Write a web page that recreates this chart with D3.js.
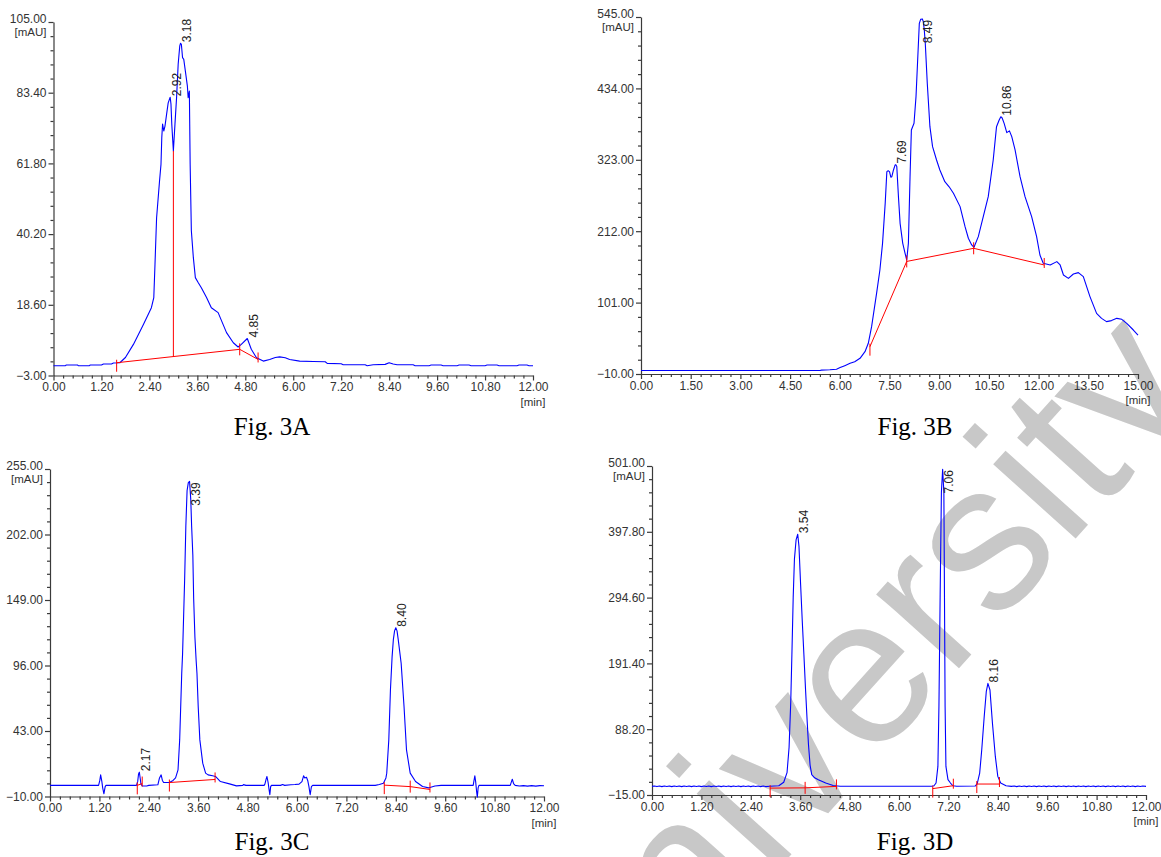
<!DOCTYPE html>
<html>
<head>
<meta charset="utf-8">
<script src="https://cdn.jsdelivr.net/npm/d3@7/dist/d3.min.js"></script>
<style>
  html, body { margin: 0; padding: 0; background: #fff; }
  svg { display: block; }
</style>
</head>
<body>
<svg id="fig" width="1161" height="857"></svg>
<script>
// ---------- Fig. 3A : chromatogram (time [min], absorbance [mAU]) ----------
const ticksXA = [0, 1.2, 2.4, 3.6, 4.8, 6.0, 7.2, 8.4, 9.6, 10.8, 12.0];
const ticksYA = [-3.00, 18.60, 40.20, 61.80, 83.40, 105.00];
const traceA = [
  [0.00,0.0],[0.30,0.0],[0.32,0.2],[0.60,0.2],[0.62,0.0],[0.90,0.0],[0.92,0.2],[1.20,0.2],
  [1.25,0.5],[1.45,0.5],[1.50,0.8],[1.66,0.9],[1.80,2.5],[2.00,6.5],[2.25,12.6],[2.45,17.7],
  [2.51,20.8],[2.54,31.0],[2.58,45.2],[2.65,55.9],[2.69,61.5],[2.71,69.7],[2.73,73.8],[2.76,71.7],
  [2.79,73.2],[2.83,76.8],[2.87,80.3],[2.92,82.0],[2.94,79.9],[2.96,73.8],[3.00,65.6],[3.04,73.8],
  [3.08,81.9],[3.12,92.1],[3.16,97.7],[3.18,98.5],[3.20,98.2],[3.23,94.1],[3.26,93.6],[3.30,90.0],
  [3.35,85.5],[3.37,81.9],[3.40,83.9],[3.42,61.5],[3.45,41.2],[3.50,33.0],[3.55,26.9],[3.62,25.4],
  [3.70,23.8],[3.83,20.8],[3.95,17.7],[4.12,16.2],[4.33,10.1],[4.50,7.0],[4.62,5.7],[4.70,6.5],
  [4.85,8.3],[4.95,5.0],[5.08,2.4],[5.25,1.4],[5.41,1.9],[5.55,2.5],[5.66,2.7],[5.80,2.4],
  [5.91,1.9],[6.16,1.4],[6.50,1.3],[6.80,1.2],[6.85,0.7],[7.20,0.6],[7.25,0.3],[7.80,0.3],
  [7.85,0.0],[8.00,0.3],[8.30,0.4],[8.40,0.9],[8.50,0.5],[8.60,0.3],[9.00,0.3],[9.05,0.0],
  [9.40,0.0],[9.45,0.2],[9.70,0.2],[9.75,0.0],[10.10,0.0],[10.15,0.2],[10.40,0.2],[10.45,0.0],
  [10.80,0.0],[10.85,0.2],[11.10,0.2],[11.15,0.0],[11.60,0.0],[11.65,0.2],[11.85,0.2],[11.90,0.0],[12.00,0.0]
];
const baselineA = [[1.58,0.9],[4.66,5.0],[5.12,1.9]];
const dropA = [[3.00,2.8],[3.00,65.6]];
const peaksA = [
  {rt:"2.92", t:2.92, v:82.0, down:false},
  {rt:"3.18", t:3.18, v:98.5, down:false},
  {rt:"4.85", t:4.85, v:8.3,  down:false}
];

// ---------- Fig. 3B ----------
const ticksXB = [0, 1.5, 3.0, 4.5, 6.0, 7.5, 9.0, 10.5, 12.0, 13.5, 15.0];
const ticksYB = [-10.00, 101.00, 212.00, 323.00, 434.00, 545.00];
const traceB = [
  [0.00,-4.5],[5.40,-4.5],[5.45,-4.0],[5.70,-3.5],[5.90,-2.5],[6.01,0.0],[6.15,3.0],[6.31,6.6],
  [6.45,9.0],[6.61,14.4],[6.76,24.7],[6.86,37.7],[6.96,63.6],[7.11,115.4],[7.21,151.7],[7.29,193.1],
  [7.37,255.3],[7.42,304.6],[7.46,306.0],[7.50,304.6],[7.54,296.0],[7.57,296.8],[7.62,307.2],[7.67,315.0],
  [7.69,315.5],[7.72,312.4],[7.77,265.7],[7.82,224.2],[7.90,193.1],[7.97,177.6],[8.02,167.2],[8.07,193.1],
  [8.12,296.8],[8.16,369.4],[8.24,379.7],[8.30,421.2],[8.35,478.2],[8.40,535.2],[8.44,541.4],[8.49,542.0],
  [8.52,538.0],[8.55,524.8],[8.58,504.1],[8.64,442.0],[8.72,374.5],[8.80,343.4],[8.92,322.7],[9.02,307.2],
  [9.17,289.0],[9.30,281.0],[9.43,270.9],[9.63,250.2],[9.78,219.0],[9.88,201.0],[9.98,190.6],[10.05,187.0],
  [10.18,203.5],[10.33,234.6],[10.48,265.7],[10.63,322.7],[10.73,374.5],[10.81,384.9],[10.86,390.0],[10.90,388.0],
  [10.96,379.7],[11.04,365.2],[11.12,368.0],[11.19,359.0],[11.29,338.3],[11.44,296.8],[11.59,265.7],[11.79,234.6],
  [11.94,203.5],[12.04,175.0],[12.14,162.1],[12.35,159.5],[12.55,164.7],[12.65,159.5],[12.75,143.9],[12.90,138.7],
  [13.05,145.5],[13.20,147.6],[13.35,141.3],[13.55,110.3],[13.75,84.3],[13.90,76.5],[14.05,71.4],[14.20,73.0],
  [14.36,76.5],[14.51,75.0],[14.66,68.8],[14.86,58.4],[15.00,50.6]
];
const baselineB = [[6.91,32.5],[8.02,165.0],[10.04,185.4],[12.17,159.5]];
const peaksB = [
  {rt:"7.69",  t:7.69,  v:315.5, down:false},
  {rt:"8.49",  t:8.46,  v:542.0, down:true},
  {rt:"10.86", t:10.86, v:390.0, down:false}
];

// ---------- Fig. 3C ----------
const ticksXC = [0, 1.2, 2.4, 3.6, 4.8, 6.0, 7.2, 8.4, 9.6, 10.8, 12.0];
const ticksYC = [-10.00, 43.00, 96.00, 149.00, 202.00, 255.00];
const traceC = [
  [0.00,-1.0],[1.18,-1.0],[1.21,3.0],[1.23,7.5],[1.26,2.0],[1.28,-3.0],[1.31,-7.8],[1.34,-2.0],
  [1.36,-1.0],[2.10,-1.0],[2.13,2.0],[2.15,8.0],[2.17,9.7],[2.19,5.0],[2.21,0.0],[2.24,-1.5],
  [2.35,-1.5],[2.40,-1.0],[2.62,-0.5],[2.66,5.0],[2.70,7.5],[2.73,3.0],[2.76,1.3],[2.90,1.3],
  [2.99,3.0],[3.05,5.0],[3.11,11.6],[3.15,35.8],[3.20,89.7],[3.22,105.0],[3.27,164.7],[3.30,209.0],
  [3.33,237.5],[3.36,244.0],[3.39,245.0],[3.42,230.0],[3.44,209.0],[3.47,185.0],[3.49,150.0],[3.52,119.0],
  [3.55,100.0],[3.57,89.7],[3.60,62.8],[3.64,35.8],[3.71,17.0],[3.78,8.9],[3.84,7.5],[3.95,6.8],
  [4.02,6.2],[4.14,2.1],[4.36,0.2],[4.53,-1.4],[4.68,-1.0],[4.70,-0.4],[4.76,-1.0],[5.20,-1.0],
  [5.22,0.0],[5.25,4.0],[5.27,6.2],[5.30,1.0],[5.32,-4.0],[5.34,-8.6],[5.36,-2.0],[5.38,-1.0],
  [5.60,-1.0],[5.65,-0.3],[5.70,-1.0],[5.85,-0.5],[5.95,-0.3],[6.05,0.0],[6.12,2.0],[6.16,6.7],
  [6.19,5.0],[6.23,5.6],[6.26,3.0],[6.29,-2.0],[6.32,-8.6],[6.35,-2.0],[6.38,-1.0],[7.90,-1.0],
  [8.00,-0.3],[8.10,0.8],[8.16,5.0],[8.18,8.9],[8.23,35.8],[8.27,76.3],[8.31,103.0],[8.34,116.7],
  [8.37,124.0],[8.40,126.5],[8.43,124.0],[8.46,116.7],[8.53,97.8],[8.60,62.8],[8.66,27.7],[8.75,8.9],
  [8.88,2.1],[9.05,-1.9],[9.20,-3.0],[9.25,-2.5],[9.35,-1.5],[9.50,-1.0],[10.28,-1.0],[10.30,3.0],
  [10.32,6.7],[10.34,2.0],[10.36,-5.0],[10.38,-10.5],[10.40,-3.0],[10.42,-1.0],[11.18,-1.0],[11.21,2.0],
  [11.23,4.0],[11.26,0.5],[11.30,-1.0],[11.40,-1.5],[11.50,-1.2],[11.60,-1.6],[11.70,-1.2],[11.80,-1.6],
  [11.90,-1.2],[12.00,-1.3]
];
const baselinesC = [
  [[2.12,-1.0],[2.24,0.5]],
  [[2.90,1.3],[4.01,3.8]],
  [[8.12,-0.8],[8.75,-2.0],[9.23,-4.3]]
];
const peaksC = [
  {rt:"2.17", t:2.17, v:9.7,   down:false},
  {rt:"3.39", t:3.39, v:245.0, down:true},
  {rt:"8.40", t:8.40, v:126.5, down:false}
];

// ---------- Fig. 3D ----------
const ticksXD = [0, 1.2, 2.4, 3.6, 4.8, 6.0, 7.2, 8.4, 9.6, 10.8, 12.0];
const ticksYD = [-15.00, 88.20, 191.40, 294.60, 397.80, 501.00];
const traceD = [
  [0.00,-1.5],[0.06,-0.9],[0.12,-1.8],[0.18,-1.0],[0.24,-1.9],[0.30,-1.0],[0.36,-1.8],[0.42,-1.0],
  [0.48,-1.9],[0.54,-1.0],[0.60,-1.8],[0.66,-1.0],[0.72,-1.9],[0.78,-1.0],[0.84,-1.8],[0.90,-1.0],
  [0.96,-1.9],[1.02,-1.0],[1.08,-1.8],[1.14,-1.0],[1.20,-1.9],[1.26,-1.0],[1.32,-1.8],[1.38,-1.0],
  [1.44,-1.9],[1.50,-1.0],[1.56,-1.8],[1.62,-1.0],[1.68,-1.9],[1.74,-1.0],[1.80,-1.8],[1.86,-1.0],
  [1.92,-1.9],[1.98,-1.0],[2.04,-1.8],[2.10,-1.0],[2.16,-1.9],[2.22,-1.0],[2.28,-1.8],[2.34,-1.0],
  [2.40,-1.9],[2.46,-1.0],[2.52,-1.8],[2.58,-1.0],[2.64,-1.9],[2.70,-1.0],[2.76,-1.8],[2.86,-1.3],
  [3.08,-0.5],[3.20,5.0],[3.28,20.0],[3.33,60.0],[3.37,130.0],[3.40,210.0],[3.43,295.0],[3.46,355.0],
  [3.50,385.0],[3.54,394.0],[3.57,375.0],[3.61,315.0],[3.65,258.0],[3.69,205.0],[3.73,150.0],[3.77,100.0],
  [3.80,65.0],[3.84,32.0],[3.88,17.0],[3.95,12.0],[4.04,9.0],[4.22,3.8],[4.40,0.0],[4.57,-1.2],
  [6.80,-1.3],[6.85,-0.5],[6.90,3.8],[6.945,29.8],[6.97,123.6],[7.00,300.0],[7.03,460.0],[7.06,496.0],
  [7.09,460.0],[7.10,350.0],[7.12,123.6],[7.14,29.8],[7.19,9.0],[7.25,3.8],[7.31,-0.5],[7.40,-1.3],
  [7.85,-1.0],[7.90,2.7],[7.96,19.4],[8.01,55.9],[8.07,108.0],[8.12,147.0],[8.16,160.0],[8.21,149.7],
  [8.27,97.6],[8.34,45.5],[8.40,14.2],[8.47,3.8],[8.60,-0.4],[8.73,-1.4],[8.80,-1.0],[8.86,-1.9],
  [8.92,-1.0],[8.98,-1.8],[9.04,-1.0],[9.10,-1.9],[9.16,-1.0],[9.22,-1.8],[9.28,-1.0],[9.34,-1.9],
  [9.40,-1.0],[9.46,-1.8],[9.52,-1.0],[9.58,-1.9],[9.64,-1.0],[9.70,-1.8],[9.76,-1.0],[9.82,-1.9],
  [9.88,-1.0],[9.94,-1.8],[10.00,-1.0],[10.06,-1.9],[10.12,-1.0],[10.18,-1.8],[10.24,-1.0],[10.30,-1.9],
  [10.36,-1.0],[10.42,-1.8],[10.48,-1.0],[10.54,-1.9],[10.60,-1.0],[10.66,-1.8],[10.72,-1.0],[10.78,-1.9],
  [10.84,-1.0],[10.90,-1.8],[10.96,-1.0],[11.02,-1.9],[11.08,-1.0],[11.14,-1.8],[11.20,-1.0],[11.26,-1.9],
  [11.32,-1.0],[11.38,-1.8],[11.44,-1.0],[11.50,-1.9],[11.56,-1.0],[11.62,-1.8],[11.68,-1.0],[11.74,-1.9],
  [11.80,-1.0],[11.86,-1.8],[11.92,-1.0],[12.00,-1.5]
];
const baselinesD = [
  [[2.87,-4.2],[3.72,-3.8],[4.48,-1.5]],
  [[6.82,-5.0],[7.32,-0.4]],
  [[7.89,2.2],[8.44,2.2]]
];
const peaksD = [
  {rt:"3.54", t:3.54, v:394.0, down:false},
  {rt:"7.06", t:7.06, v:496.0, down:true},
  {rt:"8.16", t:8.16, v:160.0, down:false}
];

const captions = ["Fig. 3A", "Fig. 3B", "Fig. 3C", "Fig. 3D"];

// ---------- drawing ----------
const svg = d3.select("#fig");
const fmt = d3.format(".2f");
const AXIS = "#3a3a3a";
const TRACE = "#0000ff";
const INTEG = "#ff0000";
const FONT = "'Liberation Sans', Arial, sans-serif";

// watermark behind the plots
svg.append("text")
  .attr("transform", "translate(590,1078) rotate(-48)")
  .attr("font-family", FONT)
  .attr("font-size", 210)
  .attr("fill", "#c8c8c8")
  .text("University");

function minorValues(ticks) {
  const out = [];
  for (let i = 0; i < ticks.length - 1; i++) {
    const a = ticks[i], b = ticks[i + 1];
    for (let k = 1; k < 5; k++) out.push(a + (b - a) * k / 5);
  }
  return out;
}

function drawPanel(cfg) {
  const g = svg.append("g");
  const x = d3.scaleLinear()
    .domain([cfg.xt[0], cfg.xt[cfg.xt.length - 1]]).range(cfg.xr);
  const y = d3.scaleLinear()
    .domain([cfg.yt[0], cfg.yt[cfg.yt.length - 1]]).range(cfg.yr);
  const x0 = cfg.xr[0], y0 = cfg.yr[0];
  const yTop = cfg.yt[cfg.yt.length - 1];

  // x axis: minor then major ticks
  g.append("g").attr("transform", `translate(0,${y0})`)
    .call(d3.axisBottom(x).tickValues(minorValues(cfg.xt)).tickSize(3).tickFormat("").tickSizeOuter(0))
    .call(a => a.select(".domain").remove());
  g.append("g").attr("transform", `translate(0,${y0})`)
    .call(d3.axisBottom(x).tickValues(cfg.xt).tickSize(5).tickPadding(2).tickFormat(fmt).tickSizeOuter(0));

  // y axis
  g.append("g").attr("transform", `translate(${x0},0)`)
    .call(d3.axisLeft(y).tickValues(minorValues(cfg.yt)).tickSize(3).tickFormat("").tickSizeOuter(0))
    .call(a => a.select(".domain").remove());
  g.append("g").attr("transform", `translate(${x0},0)`)
    .call(d3.axisLeft(y).tickValues(cfg.yt).tickSize(5).tickPadding(2).tickFormat(fmt).tickSizeOuter(0))
    .call(a => a.selectAll(".tick text").filter(d => d === yTop).attr("y", -3));

  g.selectAll(".domain, .tick line").attr("stroke", AXIS).attr("stroke-width", 1.2);
  g.selectAll(".tick text").attr("font-family", FONT).attr("font-size", 12).attr("fill", "#333");

  // unit labels
  g.append("text").attr("x", x0 - 7).attr("y", cfg.yr[1] + 13.5)
    .attr("text-anchor", "end").attr("font-family", FONT).attr("font-size", 11.5).attr("fill", "#333")
    .text("[mAU]");
  g.append("text").attr("x", cfg.xr[1]).attr("y", y0 + 30)
    .attr("text-anchor", "middle").attr("font-family", FONT).attr("font-size", 11.5).attr("fill", "#333")
    .text("[min]");

  const line = d3.line().x(d => x(d[0])).y(d => y(d[1]));

  // signal trace
  g.append("path").datum(cfg.trace)
    .attr("d", line).attr("fill", "none").attr("stroke", TRACE).attr("stroke-width", 1.1)
    .attr("stroke-linejoin", "round");

  // integration baselines with end markers
  cfg.baselines.forEach(seg => {
    g.append("path").datum(seg).attr("d", line)
      .attr("fill", "none").attr("stroke", INTEG).attr("stroke-width", 1);
    seg.forEach((p, i) => {
      const px = x(p[0]), py = y(p[1]);
      let top = py - 6, bot = py + 6;
      if (i === 0) { top = py - 3; bot = py + 9; }
      else if (i === seg.length - 1) { top = py - 7; bot = py + 3; }
      g.append("line").attr("x1", px).attr("x2", px).attr("y1", top).attr("y2", bot)
        .attr("stroke", INTEG).attr("stroke-width", 1);
    });
  });
  (cfg.drops || []).forEach(seg => {
    g.append("path").datum(seg).attr("d", line)
      .attr("fill", "none").attr("stroke", INTEG).attr("stroke-width", 1);
  });

  // retention-time labels
  cfg.peaks.forEach(p => {
    const px = x(p.t) + 10.5, py = y(p.v);
    g.append("text")
      .attr("transform", `translate(${px},${p.down ? py + 1 : py - 1}) rotate(-90)`)
      .attr("text-anchor", p.down ? "end" : "start")
      .attr("font-family", FONT).attr("font-size", 12).attr("fill", "#222")
      .text(p.rt);
  });

  // caption
  g.append("text").attr("x", cfg.cap[0]).attr("y", cfg.cap[1])
    .attr("text-anchor", "middle").attr("font-family", "'Liberation Serif', 'Times New Roman', serif")
    .attr("font-size", 25).attr("fill", "#000").text(cfg.caption);
}

drawPanel({xt: ticksXA, yt: ticksYA, xr: [53.5, 533], yr: [375.5, 22],
  trace: traceA, baselines: [baselineA], drops: [dropA], peaks: peaksA,
  caption: captions[0], cap: [272, 435]});
drawPanel({xt: ticksXB, yt: ticksYB, xr: [641, 1138], yr: [374, 17],
  trace: traceB, baselines: [baselineB], peaks: peaksB,
  caption: captions[1], cap: [915, 435]});
drawPanel({xt: ticksXC, yt: ticksYC, xr: [50, 544], yr: [796.5, 469],
  trace: traceC, baselines: baselinesC, peaks: peaksC,
  caption: captions[2], cap: [272, 850]});
drawPanel({xt: ticksXD, yt: ticksYD, xr: [652, 1146], yr: [795, 466],
  trace: traceD, baselines: baselinesD, peaks: peaksD,
  caption: captions[3], cap: [915, 850]});
</script>
</body>
</html>
